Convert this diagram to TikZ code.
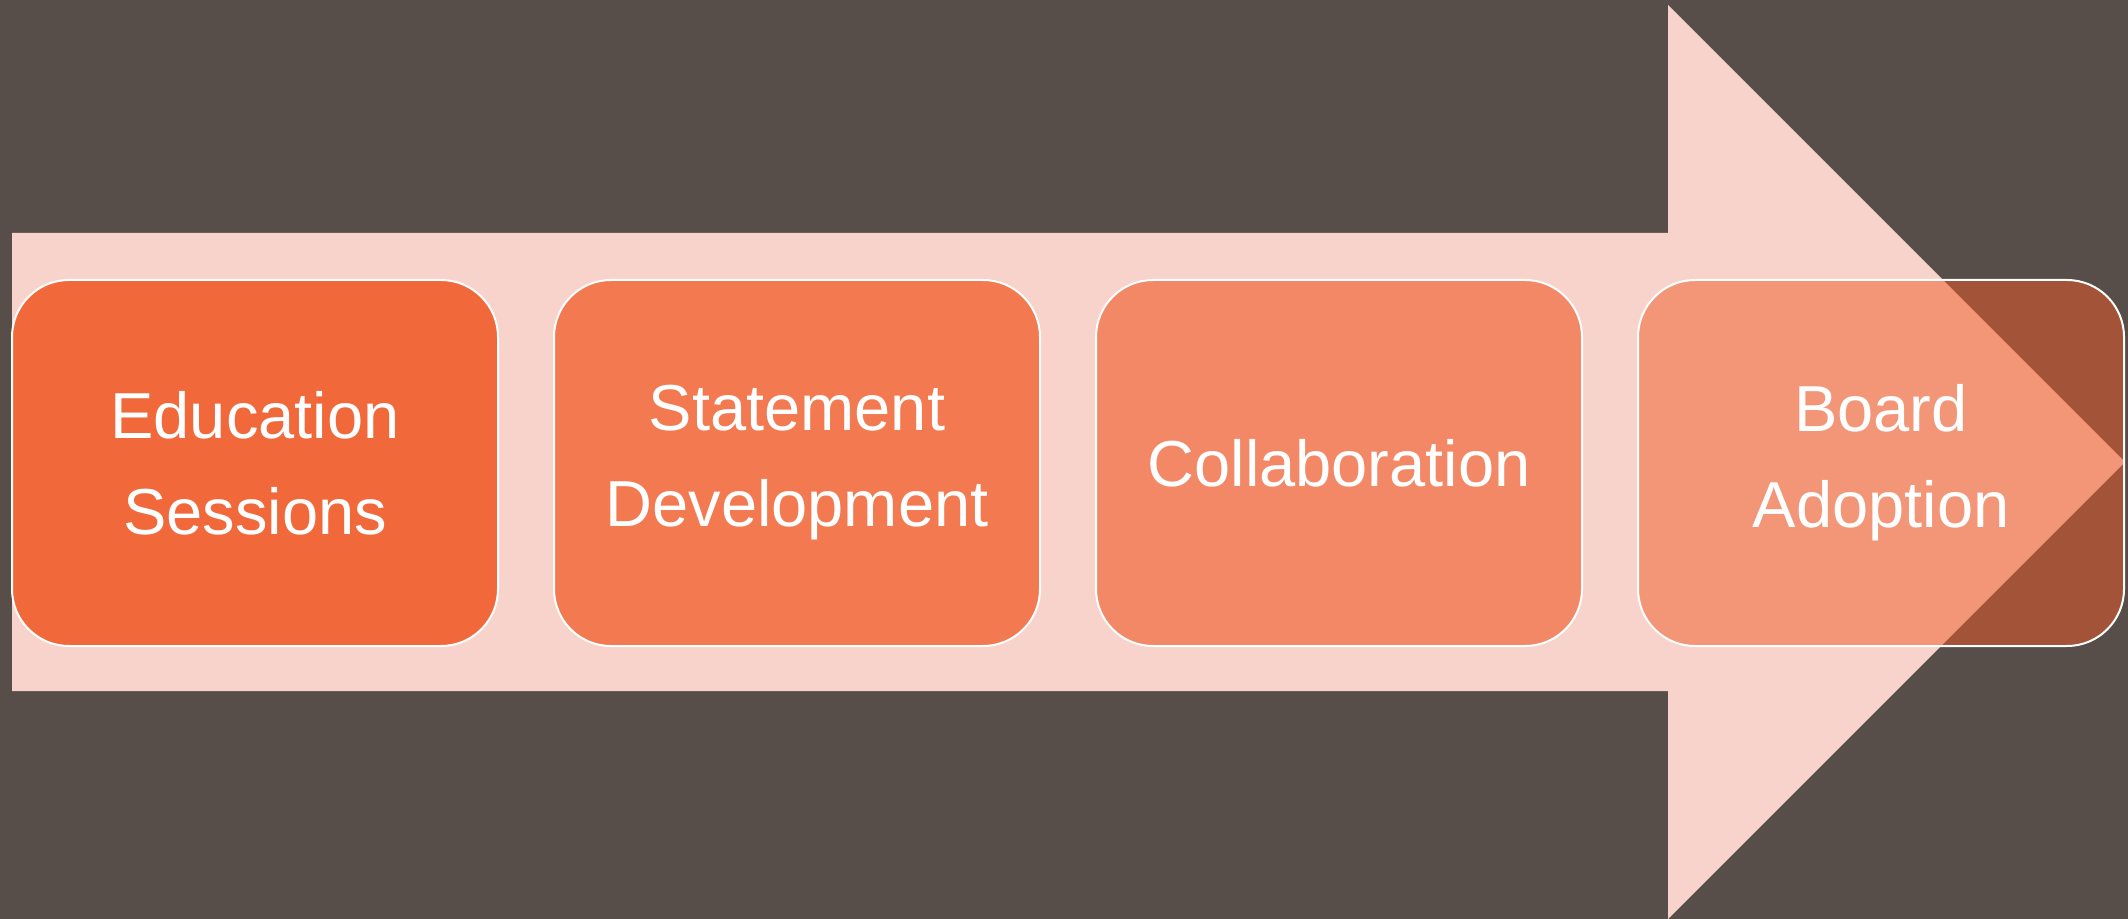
\documentclass[tikz,border=0pt]{standalone}
\usepackage{fontspec}
\setmainfont{Liberation Sans}
\definecolor{bgbrown}{RGB}{87,77,73}
\definecolor{arrowpink}{RGB}{248,211,203}
\definecolor{stageorange}{RGB}{240,90,38}
\tikzset{
  stage/.style={draw=white, line width=1pt, fill=stageorange, text=white, text opacity=1,
    rounded corners=28.5pt, minimum width=243pt, minimum height=183pt, inner sep=0pt,
    align=center, font=\fontsize{32.5}{48}\selectfont}
}
\begin{document}
\begin{tikzpicture}[x=0.5pt,y=0.5pt,yscale=-1,xscale=1]
%Shape: Rectangle [background]
\fill [bgbrown] (0,0) rectangle (2128,919);
%Shape: Right Arrow
\fill [arrowpink] (12,233) -- (1668,233) -- (1668,5) -- (2125,462) -- (1668,919) -- (1668,691) -- (12,691) -- cycle;

% Text Node
\node (edu) [stage, fill opacity=0.87] at (255,463) {Education\\Sessions};
% Text Node
\node (stmt) [stage, fill opacity=0.74] at (797,463) {Statement\\Development};
% Text Node
\node (collab) [stage, fill opacity=0.61] at (1339,463) {Collaboration};
% Text Node
\node (board) [stage, fill opacity=0.5] at (1881,463) {Board\\Adoption};

\end{tikzpicture}
\end{document}
